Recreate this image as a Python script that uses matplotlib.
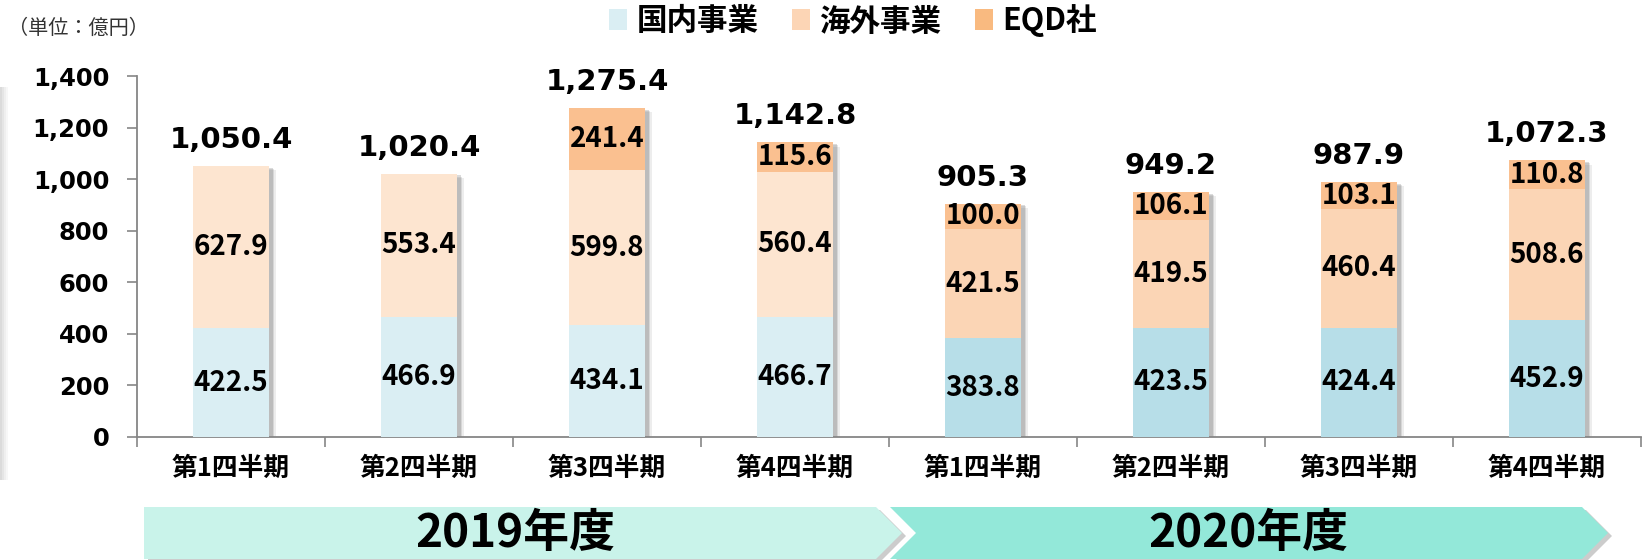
import matplotlib
matplotlib.use("Agg")
import matplotlib.pyplot as plt
import matplotlib.patheffects as pe
from matplotlib.patches import Patch, Polygon, Rectangle
import numpy as np

# ---------------- data ----------------
quarters = ["第1四半期", "第2四半期", "第3四半期", "第4四半期",
            "第1四半期", "第2四半期", "第3四半期", "第4四半期"]
domestic = [422.5, 466.9, 434.1, 466.7, 383.8, 423.5, 424.4, 452.9]
overseas = [627.9, 553.4, 599.8, 560.4, 421.5, 419.5, 460.4, 508.6]
eqd = [0.0, 0.0, 241.4, 115.6, 100.0, 106.1, 103.1, 110.8]
totals = ["1,050.4", "1,020.4", "1,275.4", "1,142.8", "905.3", "949.2", "987.9", "1,072.3"]
series_names = ["国内事業", "海外事業", "EQD社"]
years = ["2019年度", "2020年度"]
yticks = [0, 200, 400, 600, 800, 1000, 1200, 1400]
unit_label = "（単位：億円）"

# colours per year (2019 lighter, 2020 stronger)
dom_colors = ["#DAEEF3"] * 4 + ["#B7DEE8"] * 4
ovs_colors = ["#FDE5D0"] * 4 + ["#FBD5B5"] * 4
eqd_colors = ["#FAC090"] * 8
legend_colors = ["#DAEEF3", "#FCD5B5", "#F9BA80"]

W, H = 1647, 560
fig = plt.figure(figsize=(W / 100, H / 100), dpi=100)
CJK = ["Noto Sans CJK JP", "DejaVu Sans"]

ax_left, ax_right = 137 / W, 1641 / W
ax_bottom, ax_top = 1 - 437 / H, 1 - 76 / H
ax = fig.add_axes([ax_left, ax_bottom, ax_right - ax_left, ax_top - ax_bottom])

x = np.arange(len(quarters))
bw = 0.4

b1 = ax.bar(x, domestic, bw, color=dom_colors, zorder=3)
b2 = ax.bar(x, overseas, bw, bottom=domestic, color=ovs_colors, zorder=3)
bottom3 = np.array(domestic) + np.array(overseas)
b3 = ax.bar(x, eqd, bw, bottom=bottom3, color=eqd_colors, zorder=3)

# soft drop shadow behind each whole stack
tot_vals = bottom3 + np.array(eqd)
for off, al in [((5, -3), 0.12), ((4, -2), 0.18), ((3, -1), 0.25)]:
    sh = ax.bar(x, tot_vals, bw, color="white", zorder=2)
    for p in sh:
        p.set_path_effects([pe.SimplePatchShadow(offset=off, shadow_rgbFace="#707070", alpha=al)])

seg_font = dict(family=CJK, fontsize=20, fontweight="bold", color="black", ha="center", va="center", zorder=5)
for i in range(len(x)):
    ax.text(x[i], domestic[i] / 2, f"{domestic[i]:.1f}", **seg_font)
    ax.text(x[i], domestic[i] + overseas[i] / 2, f"{overseas[i]:.1f}", **seg_font)
    if eqd[i] > 0:
        ax.text(x[i], bottom3[i] + eqd[i] / 2, f"{eqd[i]:.1f}", **seg_font)
    ax.annotate(totals[i], (x[i], tot_vals[i]), xytext=(0, 12), textcoords="offset pixels",
                ha="center", va="bottom", fontsize=21, fontweight="bold",
                family="DejaVu Sans", annotation_clip=False)

ax.set_xlim(-0.5, len(x) - 0.5)
ax.set_ylim(0, 1400)
ax.set_yticks(yticks)
ax.set_yticklabels([f"{v:,}" for v in yticks], fontsize=17.5, fontweight="bold", family="DejaVu Sans")
ax.set_xticks(x)
ax.set_xticklabels(quarters, fontsize=18.5, fontweight="bold", family=CJK)
ax.set_xticks(np.arange(-0.5, len(x), 1), minor=True)
ax.tick_params(axis="x", which="major", length=0, pad=13)
ax.tick_params(axis="x", which="minor", length=7, color="#868686", direction="out", width=1.2)
ax.tick_params(axis="y", length=7, color="#868686", width=1.2, pad=13)
for s in ["top", "right"]:
    ax.spines[s].set_visible(False)
for s in ["left", "bottom"]:
    ax.spines[s].set_color("#868686")
    ax.spines[s].set_linewidth(1.3)

# legend
handles = [Patch(facecolor=c, edgecolor="none") for c in legend_colors]
fig.legend(handles, series_names, loc="center", bbox_to_anchor=(853 / W, 1 - 21 / H),
           ncol=3, frameon=False, prop=dict(family=CJK, size=22, weight="bold"),
           handlelength=0.6, handleheight=0.7, handletextpad=0.3, columnspacing=1.1)

fig.text(8 / W, 1 - 28 / H, unit_label, fontsize=14.5, family=CJK, color="#333333", ha="left", va="center")

# left-edge faint shadow artefact
for k, a in enumerate([0.35, 0.25, 0.15, 0.08]):
    fig.patches.append(Rectangle(((k * 2) / W, 1 - 480 / H), 2 / W, 393 / H,
                                 transform=fig.transFigure, facecolor="#9a9a9a", alpha=a,
                                 edgecolor="none"))

# year banners
def fpt(px, py):
    return (px / W, 1 - py / H)

top, mid, bot = 507, 533, 559
b2019 = [fpt(144, top), fpt(876, top), fpt(902, mid), fpt(876, bot), fpt(144, bot)]
b2020 = [fpt(890, top), fpt(1582, top), fpt(1608, mid), fpt(1582, bot), fpt(890, bot), fpt(916, mid)]
for poly, col in [(b2020, "#93E8D9"), (b2019, "#C9F3EA")]:
    sh_poly = [(px + 4 / W, py - 3 / H) for px, py in poly]
    fig.patches.append(Polygon(sh_poly, closed=True, transform=fig.transFigure,
                               facecolor="#9a9a9a", alpha=0.5, edgecolor="none"))
    fig.patches.append(Polygon(poly, closed=True, transform=fig.transFigure,
                               facecolor=col, edgecolor="none"))

fig.text(515 / W, 1 - 534 / H, years[0], fontsize=33, fontweight="bold", family=CJK,
         ha="center", va="center")
fig.text(1248 / W, 1 - 534 / H, years[1], fontsize=33, fontweight="bold", family=CJK,
         ha="center", va="center")

fig.savefig("out.png", dpi=100)
